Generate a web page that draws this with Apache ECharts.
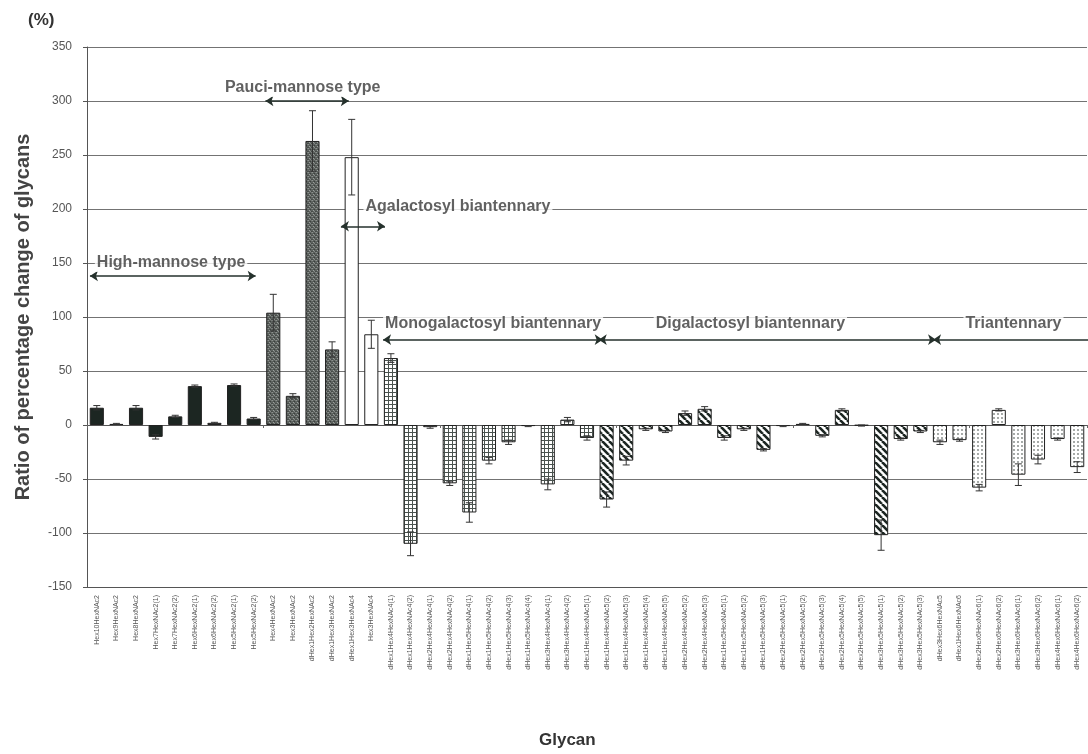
<!DOCTYPE html>
<html>
<head>
<meta charset="utf-8">
<script src="https://cdn.jsdelivr.net/npm/echarts@6/dist/echarts.min.js"></script>
<style>
  html, body { margin: 0; padding: 0; background: #ffffff; }
  #chart { width: 1088px; height: 754px; }
</style>
</head>
<body>
<div id="chart"></div>
<script>
// Glycan structures, in plotting order
const categories = [
  'Hex10HexNAc2', 'Hex9HexNAc2', 'Hex8HexNAc2', 'Hex7HexNAc2(1)', 'Hex7HexNAc2(2)',
  'Hex6HexNAc2(1)', 'Hex6HexNAc2(2)', 'Hex5HexNAc2(1)', 'Hex5HexNAc2(2)',
  'Hex4HexNAc2', 'Hex3HexNAc2', 'dHex1Hex2HexNAc2', 'dHex1Hex3HexNAc2',
  'dHex1Hex3HexNAc4', 'Hex3HexNAc4',
  'dHex1Hex4HexNAc4(1)', 'dHex1Hex4HexNAc4(2)', 'dHex2Hex4HexNAc4(1)', 'dHex2Hex4HexNAc4(2)',
  'dHex1Hex5HexNAc4(1)', 'dHex1Hex5HexNAc4(2)', 'dHex1Hex5HexNAc4(3)', 'dHex1Hex5HexNAc4(4)',
  'dHex3Hex4HexNAc4(1)', 'dHex3Hex4HexNAc4(2)', 'dHex1Hex4HexNAc5(1)',
  'dHex1Hex4HexNAc5(2)', 'dHex1Hex4HexNAc5(3)', 'dHex1Hex4HexNAc5(4)', 'dHex1Hex4HexNAc5(5)',
  'dHex2Hex4HexNAc5(2)', 'dHex2Hex4HexNAc5(3)', 'dHex1Hex5HexNAc5(1)', 'dHex1Hex5HexNAc5(2)',
  'dHex1Hex5HexNAc5(3)', 'dHex2Hex5HexNAc5(1)', 'dHex2Hex5HexNAc5(2)', 'dHex2Hex5HexNAc5(3)',
  'dHex2Hex5HexNAc5(4)', 'dHex2Hex5HexNAc5(5)', 'dHex3Hex5HexNAc5(1)', 'dHex3Hex5HexNAc5(2)',
  'dHex3Hex5HexNAc5(3)',
  'dHex3Hex6HexNAc5', 'dHex1Hex6HexNAc6', 'dHex2Hex6HexNAc6(1)', 'dHex2Hex6HexNAc6(2)',
  'dHex3Hex6HexNAc6(1)', 'dHex3Hex6HexNAc6(2)', 'dHex4Hex6HexNAc6(1)', 'dHex4Hex6HexNAc6(2)'
];

// Ratio of percentage change (%)
const changeValues = [
  16, 1, 16, -11, 8, 36, 2, 37, 6,
  104, 27, 263, 70,
  248, 84,
  62, -110, -2, -54, -81, -33, -16, -1, -55, 5, -12,
  -69, -33, -4, -6, 11, 15, -12, -4, -23, -1, 1, -10, 14, -0.5, -102, -13, -6,
  -16, -14, -58, 14, -46, -32, -13, -39
];

// Standard error of each ratio (%)
const errorValues = [
  2, 0.5, 2, 2, 1, 1, 0.5, 1, 1,
  17, 2, 28, 7,
  35, 13,
  4, 11, 1, 2, 9, 3, 2, 0.5, 5, 2, 2,
  7, 4, 1, 1, 2, 2, 2, 1, 1, 0.5, 0.5, 1, 1, 0.5, 14, 1, 1,
  2, 1, 3, 1, 10, 4, 1, 5
];

// Structural class of each glycan (index into glycanClasses)
const classOf = [
  0, 0, 0, 0, 0, 0, 0, 0, 0,
  1, 1, 1, 1,
  2, 2,
  3, 3, 3, 3, 3, 3, 3, 3, 3, 3, 3,
  4, 4, 4, 4, 4, 4, 4, 4, 4, 4, 4, 4, 4, 4, 4, 4, 4,
  5, 5, 5, 5, 5, 5, 5, 5
];

const glycanClasses = [
  'High-mannose type', 'Pauci-mannose type', 'Agalactosyl biantennary',
  'Monogalactosyl biantennary', 'Digalactosyl biantennary', 'Triantennary'
];

// Class brackets: [first index, last index] of each class along the axis
const classSpans = [[0, 8], [9, 12], [13, 14], [15, 25], [26, 42], [43, 50]];

// ---- fill patterns for each structural class ----
function tile(w, h, draw) {
  const c = document.createElement('canvas');
  c.width = w; c.height = h;
  draw(c.getContext('2d'));
  return { image: c, repeat: 'repeat' };
}
const ink = '#1c2622';
const fills = [
  ink,
  tile(4, 4, g => {
    g.fillStyle = '#5d625f'; g.fillRect(0, 0, 4, 4);
    const specks = [[0, 0, '#8c918e'], [2, 1, '#3b403d'], [1, 2, '#9a9f9c'], [3, 3, '#454a47'],
                    [3, 0, '#767b78'], [0, 3, '#4a4f4c'], [2, 3, '#848986'], [1, 1, '#505552']];
    specks.forEach(([x, y, c]) => { g.fillStyle = c; g.fillRect(x, y, 1, 1); });
  }),
  '#ffffff',
  tile(4, 4, g => {
    g.fillStyle = '#ffffff'; g.fillRect(0, 0, 4, 4);
    g.fillStyle = '#4a534f'; g.fillRect(0, 0, 4, 1); g.fillRect(0, 0, 1, 4);
  }),
  tile(7, 7, g => {
    g.fillStyle = '#ffffff'; g.fillRect(0, 0, 7, 7);
    g.strokeStyle = ink; g.lineWidth = 2.6;
    [-7, 0, 7].forEach(o => { g.beginPath(); g.moveTo(o, 0); g.lineTo(o + 7, 7); g.stroke(); });
  }),
  tile(4, 4, g => {
    g.fillStyle = '#ffffff'; g.fillRect(0, 0, 4, 4);
    g.fillStyle = '#7d827f'; g.beginPath(); g.arc(2, 2, 0.9, 0, Math.PI * 2); g.fill();
  })
];

const barData = changeValues.map((v, i) => ({
  value: v,
  itemStyle: { color: fills[classOf[i]] }
}));

// class labels and their double-headed brackets, in axis units
const labelY = [150, 312, 202, 94, 94, 94];
const arrowY = [138, 300, 184, 79, 79, 79];
const labelAt = [0.4, 11, 14.1, 15.1, 28.9, 44.7];
const labelAlign = ['left', 'center', 'left', 'left', 'left', 'left'];
const arrowPad = [[0.15, -0.4], [0.1, 0.35], [-0.05, 0.2], [0.1, 0.3], [0.1, 0.3], [0.15, 0.5]];

const arrowData = classSpans.map(([a, b], k) => ({
  coords: [[a + arrowPad[k][0], arrowY[k]], [b + 1 + arrowPad[k][1], arrowY[k]]]
}));

const labelData = glycanClasses.map((name, k) => ({
  name: name,
  value: [labelAt[k], labelY[k]],
  label: labelAlign[k] === 'center'
    ? { position: 'inside', align: 'center' }
    : { position: 'right', distance: 0 }
}));

const fontFamily = 'Liberation Sans, Arial, sans-serif';
const chart = echarts.init(document.getElementById('chart'), null, { renderer: 'canvas' });

chart.setOption({
  backgroundColor: '#ffffff',
  animation: false,
  textStyle: { fontFamily: fontFamily },
  grid: { left: 87, right: 1, top: 47, bottom: 167, outerBoundsMode: 'none', containLabel: false },
  graphic: [
    {
      type: 'text', left: 28, top: 12,
      style: { text: '(%)', fontSize: 17, fontWeight: 'bold', fill: '#333', fontFamily: fontFamily }
    },
    {
      type: 'text', left: 539, top: 732,
      style: { text: 'Glycan', fontSize: 17, fontWeight: 'bold', fill: '#333', fontFamily: fontFamily }
    }
  ],
  xAxis: [
    {
      type: 'category',
      data: categories,
      position: 'bottom',
      axisLine: { onZero: false, lineStyle: { color: '#555' } },
      axisTick: { show: false },
      axisLabel: { interval: 0, rotate: 90, fontSize: 7, color: '#555', margin: 8 }
    },
    {
      type: 'category',
      data: categories,
      position: 'bottom',
      axisLine: { onZero: true, lineStyle: { color: '#555' } },
      axisTick: { show: true, length: 3, lineStyle: { color: '#666' } },
      axisLabel: { show: false }
    },
    {
      type: 'value', min: 0, max: categories.length, show: false
    }
  ],
  yAxis: {
    type: 'value',
    min: -150, max: 350, interval: 50,
    name: 'Ratio of percentage change of glycans',
    nameLocation: 'middle',
    nameRotate: 90,
    nameGap: 54,
    nameTextStyle: { fontSize: 20, fontWeight: 'bold', color: '#444' },
    axisLine: { show: true, lineStyle: { color: '#555' } },
    axisTick: { show: true, length: 4, lineStyle: { color: '#555' } },
    axisLabel: { fontSize: 12, color: '#555', margin: 15 },
    splitLine: { lineStyle: { color: '#737373', width: 1 } }
  },
  series: [
    {
      type: 'bar',
      xAxisIndex: 0,
      data: barData,
      barWidth: '72%',
      itemStyle: { borderColor: '#222', borderWidth: 1 },
      z: 2
    },
    {
      type: 'custom',
      xAxisIndex: 0,
      data: changeValues.map((v, i) => [i, v - errorValues[i], v + errorValues[i]]),
      renderItem: function (params, api) {
        const lo = api.coord([api.value(0), api.value(1)]);
        const hi = api.coord([api.value(0), api.value(2)]);
        const half = 3.5;
        const style = { stroke: '#333', lineWidth: 1 };
        return {
          type: 'group',
          children: [
            { type: 'line', shape: { x1: hi[0], y1: hi[1], x2: lo[0], y2: lo[1] }, style: style },
            { type: 'line', shape: { x1: hi[0] - half, y1: hi[1], x2: hi[0] + half, y2: hi[1] }, style: style },
            { type: 'line', shape: { x1: lo[0] - half, y1: lo[1], x2: lo[0] + half, y2: lo[1] }, style: style }
          ]
        };
      },
      z: 3
    },
    {
      type: 'lines',
      coordinateSystem: 'cartesian2d',
      xAxisIndex: 2,
      data: arrowData,
      symbol: ['arrow', 'arrow'],
      symbolSize: 8,
      lineStyle: { color: '#25312c', width: 1.6, opacity: 1 },
      z: 4
    },
    {
      type: 'scatter',
      xAxisIndex: 2,
      data: labelData,
      symbolSize: 0,
      label: {
        show: true,
        formatter: '{b}',
        fontSize: 16,
        fontWeight: 'bold',
        color: '#3a3a3a',
        backgroundColor: '#ffffff',
        padding: [1, 2]
      },
      z: 5
    }
  ]
});
</script>
</body>
</html>
